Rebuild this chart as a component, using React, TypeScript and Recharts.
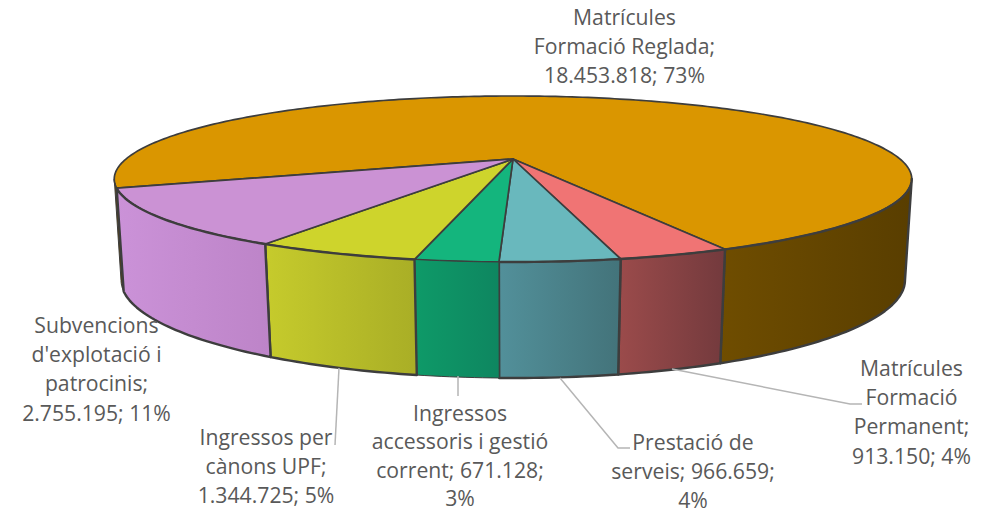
import { PieChart, Pie, Cell } from 'recharts'

const CATEGORIES = [
  'Matrícules Formació Reglada',
  'Matrícules Formació Permanent',
  'Prestació de serveis',
  'Ingressos accessoris i gestió corrent',
  'Ingressos per cànons UPF',
  "Subvencions d'explotació i patrocinis",
]
const VALUES = [18453818, 913150, 966659, 671128, 1344725, 2755195]

const LABEL_LINES = [
  ['Matrícules', 'Formació Reglada;', '18.453.818; 73%'],
  ['Matrícules', 'Formació', 'Permanent;', '913.150; 4%'],
  ['Prestació de', 'serveis; 966.659;', '4%'],
  ['Ingressos', 'accessoris i gestió', 'corrent; 671.128;', '3%'],
  ['Ingressos per', 'cànons UPF;', '1.344.725; 5%'],
  ['Subvencions', "d'explotació i", 'patrocinis;', '2.755.195; 11%'],
]

const TOP_COLORS = ['#da9600', '#f07474', '#69b8bd', '#14b57d', '#ced42c', '#cb92d4']
const WALL_FROM = ['#6f4d00', '#9b4b4b', '#52909a', '#0e9a68', '#c6cb2c', '#cb92d8']
const WALL_TO = ['#593e00', '#733a3d', '#43737a', '#0e8660', '#a9ae26', '#bd84c8']

// label anchor (centre x, first baseline, line step) and leader line, in page pixels
const LABEL_X = [624.5, 911.5, 693, 460, 266, 96.5]
const LABEL_Y = [25, 376, 450, 421, 445, 333]
const LABEL_STEP = [29.2, 29.2, 29.2, 28.4, 29.2, 29.2]
const LEADERS = [
  '',
  '672,369 850,404 862,404',
  '560,378 618,448 630,448',
  '458,376 458,396',
  '339,368 335,445',
  '',
]

const CX = 513
// perspective fit of the two rims
const TOP_RIM = { y0: 159, a: 78.2, b: 387, k: 0.241 }
const BOTTOM_RIM = { y0: 257, a: 92.6, b: 381, k: 0.235 }
const SILHOUETTE = 13.9

const RAD = Math.PI / 180
const OUTLINE = '#3d3d3d'

const project = (deg: number, rim: typeof TOP_RIM) => {
  const c = Math.cos(deg * RAD)
  const s = Math.sin(deg * RAD)
  const w = 1 + rim.k * s
  return [CX + (rim.b * c) / w, rim.y0 - (rim.a * s) / w]
}

const arc = (from: number, to: number, rim: typeof TOP_RIM) => {
  const n = Math.max(2, Math.ceil(Math.abs(to - from)))
  const pts: string[] = []
  for (let i = 0; i <= n; i++) {
    const p = project(from + ((to - from) * i) / n, rim)
    pts.push(`${p[0].toFixed(2)},${p[1].toFixed(2)}`)
  }
  return pts
}

// front facing parts of a slice, the only ones that show a wall
const wallRanges = (start: number, end: number) => {
  const out: number[][] = []
  for (const [lo, hi] of [
    [180 + SILHOUETTE, 360 - SILHOUETTE],
    [180 + SILHOUETTE - 360, -SILHOUETTE],
  ]) {
    const a = Math.min(start, hi)
    const b = Math.max(end, lo)
    if (a > b) out.push([a, b])
  }
  return out
}

const Slice3D = (props: any) => {
  const { startAngle, endAngle, index } = props
  const top = [`${CX},${TOP_RIM.y0}`, ...arc(startAngle, endAngle, TOP_RIM)]
  return (
    <g>
      <polygon
        points={top.join(' ')}
        fill={TOP_COLORS[index]}
        stroke={OUTLINE}
        strokeWidth={1.7}
        strokeLinejoin="round"
      />
      {wallRanges(startAngle, endAngle).map(([a, b], i) => (
        <polygon
          key={i}
          points={[...arc(a, b, TOP_RIM), ...arc(b, a, BOTTOM_RIM)].join(' ')}
          fill={`url(#wall-${index})`}
          stroke={OUTLINE}
          strokeWidth={a - b < 10 ? 1 : 2.4}
          strokeLinejoin="round"
        />
      ))}
    </g>
  )
}

const SliceLabel = ({ index }: any) => (
  <g>
    {LEADERS[index] && <polyline points={LEADERS[index]} fill="none" stroke="#b5b5b5" strokeWidth={1.5} />}
    <text
      textAnchor="middle"
      fontFamily="'Open Sans', sans-serif"
      fontSize={21.2}
      fill="#595959"
    >
      {LABEL_LINES[index].map((line, i) => (
        <tspan key={i} x={LABEL_X[index]} y={LABEL_Y[index] + i * LABEL_STEP[index]}>
          {line}
        </tspan>
      ))}
    </text>
  </g>
)

const data = CATEGORIES.map((name, i) => ({ name, value: VALUES[i] }))

export default function App() {
  return (
    <div style={{ position: 'absolute', left: 0, top: 0, width: 984, height: 513, background: '#fff' }}>
      <PieChart width={984} height={513} margin={{ top: 0, right: 0, bottom: 0, left: 0 }}>
        <defs>
          {WALL_FROM.map((c, i) => (
            <linearGradient key={i} id={`wall-${i}`} x1="0" y1="0" x2="1" y2="0">
              <stop offset="0%" stopColor={c} />
              <stop offset="100%" stopColor={WALL_TO[i]} />
            </linearGradient>
          ))}
        </defs>
        <Pie
          data={data}
          dataKey="value"
          nameKey="name"
          cx={CX}
          cy={159}
          outerRadius={100}
          startAngle={200}
          endAngle={-160}
          paddingAngle={0}
          shape={Slice3D}
          label={SliceLabel}
          labelLine={false}
          isAnimationActive={false}
        >
          {data.map((_, i) => (
            <Cell key={i} fill={TOP_COLORS[i]} />
          ))}
        </Pie>
      </PieChart>
    </div>
  )
}
